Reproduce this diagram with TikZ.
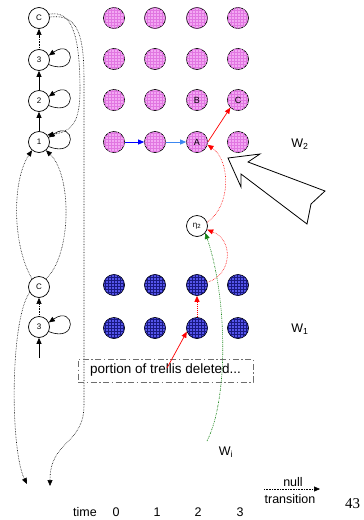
\documentclass[tikz,border=0pt]{standalone}
\usepackage{fontspec}
\setmainfont{Liberation Sans}
\newfontfamily\pagenumfont{Liberation Serif}
\usetikzlibrary{arrows.meta,patterns}

\definecolor{trellispink}{RGB}{243,168,243}
\definecolor{trellispinkgrid}{RGB}{225,118,225}
\definecolor{trellisblue}{RGB}{85,85,235}
\definecolor{trellisbluegrid}{RGB}{25,25,130}
\definecolor{lightarrowblue}{RGB}{60,135,240}
\definecolor{pathgreen}{RGB}{20,130,20}
\definecolor{boxgray}{RGB}{110,110,110}
\definecolor{pathred}{RGB}{255,0,0}

\tikzset{
  x=1pt, y=-1pt,
  arr/.style={-{Triangle[length=6pt,width=5pt]}},
  stnode/.style={circle, draw, line width=0.7pt, minimum size=21pt, inner sep=0pt,
    fill=white, font=\fontsize{8}{9}\selectfont},
  pinknode/.style={circle, draw, line width=0.7pt, minimum size=21pt, inner sep=0pt,
    fill=trellispink, postaction={pattern=grid, pattern color=trellispinkgrid},
    font=\fontsize{9}{10}\selectfont},
  bluenode/.style={circle, draw, line width=0.7pt, minimum size=21pt, inner sep=0pt,
    fill=trellisblue, postaction={pattern=grid, pattern color=trellisbluegrid}},
  dotline/.style={densely dotted, line width=0.6pt},
  lbl/.style={font=\fontsize{12.5}{14}\selectfont, inner sep=0pt},
}

\begin{document}
\begin{tikzpicture}
\useasboundingbox (0,0) rectangle (364,520);

% ---- word model (state column) ----
\node[stnode] (ct) at (39,18) {C};
\node[stnode] (s3) at (39,60) {3};
\node[stnode] (s2) at (39,101) {2};
\node[stnode] (s1) at (39,142) {1};
\node[stnode] (cb) at (39,287) {C};
\node[stnode] (t3) at (39,327) {3};
\coordinate (inb) at (39,358);
\coordinate (endL) at (27,484);
\coordinate (endR) at (50,486);

\draw[arr, line width=0.7pt] (s1) -- (s2);
\draw[arr, line width=0.7pt] (s2) -- (s3);
\draw[arr, dotline] (s3) -- (ct);
\draw[arr, dotline] (t3) -- (cb);
\draw[arr, line width=0.7pt] (inb) -- (t3);

% self loops
\foreach \n in {s3,s2,s1,t3}
  \draw[arr, line width=0.6pt] (\n.-25) .. controls +(30,12) and +(26,-18) .. (\n.25);

% long dotted transitions
\draw[arr, dotline] (ct.20) .. controls (70,10) and (80,30) .. (80,90)
  .. controls (80,125) and (70,132) .. (s1.40);
\draw[arr, dotline] (ct.5) .. controls (76,14) and (84,30) .. (84,80)
  -- (84,405) .. controls (84,445) and (50,440) .. (endR);
\draw[arr, dotline] (cb.130) .. controls (12,245) and (12,180) .. (s1.-130);
\draw[arr, dotline] (cb.50) .. controls (72,255) and (72,175) .. (s1.-50);
\draw[arr, dotline] (cb.-150) .. controls (10,320) and (10,450) .. (endL);

% ---- trellis, upper word ----
\foreach \nm/\x/\y/\t in {
  p03/114/18/, p13/155/18/, p23/197/18/, p33/238/18/,
  p02/114/59/, p12/155/59/, p22/197/59/, p32/238/59/,
  p01/114/100/, p11/155/100/, p21/197/100/B, p31/238/100/C,
  p00/114/142/, p10/155/142/, p20/197/142/A, p30/238/142/}
  \node[pinknode] (\nm) at (\x,\y) {\t};

% ---- trellis, lower word ----
\foreach \nm/\x/\y in {
  b01/114/285, b11/155/285, b21/197/285, b31/238/285,
  b00/114/328, b10/155/328, b20/197/328, b30/238/328}
  \node[bluenode] (\nm) at (\x,\y) {};

\node[stnode, font=\fontsize{8}{9}\selectfont] (eta) at (197,226) {η\textsubscript{2}};

% trellis paths
\draw[arr, blue, line width=0.8pt] (p00) -- (p10);
\draw[arr, lightarrowblue, line width=0.8pt] (p10) -- (p20);
\draw[arr, pathred, line width=0.7pt] (p20.east) -- (p31.-135);
\draw[arr, pathred, dotline] (eta.20) .. controls (232,205) and (230,160) .. (p20.-15);
\draw[arr, pathred, dotline] (b21.15) .. controls (232,275) and (234,240) .. (eta.-20);
\draw[arr, color=pathred, dash pattern=on 1pt off 1pt, line width=0.9pt] (b20.north) -- (b21.south);

% deleted portion
\node[draw=boxgray, line width=0.9pt, dash pattern=on 6pt off 2.5pt on 1.5pt off 2.5pt,
  minimum width=175pt, minimum height=23pt, inner sep=0pt,
  font=\fontsize{13.5}{15}\selectfont] (gap) at (165.5,370.5) {portion of trellis deleted...};
\coordinate (gapptr) at (167,368);
\draw[arr, pathred, line width=0.7pt] (gapptr) -- (b20.-160);

% entry from word i
\coordinate (wistart) at (207,441);
\draw[arr, pathgreen, line width=0.6pt, dash pattern=on 1.5pt off 1pt on 0.5pt off 1pt]
  (wistart) .. controls (228,400) and (228,300) .. (eta.-40);

% big pointer
\draw[line width=0.8pt, fill=white, line join=miter]
  (228,158) -- (260,154) -- (248,162) -- (325,191) -- (311,204) -- (307,224)
  -- (241,174) -- (241,187) -- cycle;

% word labels
\node[lbl] (w2) at (300,144) {W\textsubscript{2}};
\node[lbl] (w1) at (300,329) {W\textsubscript{1}};
\node[lbl] (wi) at (226,452) {W\textsubscript{i}};

% time axis
\node[lbl] (time) at (85,512) {time};
\node[lbl] (t0) at (116,512) {0};
\node[lbl] (t1) at (157,512) {1};
\node[lbl] (t2) at (198,512) {2};
\node[lbl] (t3l) at (240,512) {3};

% legend
\node[lbl] (nulltxt) at (293,482) {null};
\node[lbl] (transtxt) at (290,499) {transition};
\coordinate (lega) at (264,489);
\coordinate (legb) at (320,489);
\draw[arr, dotline] (lega) -- (legb);

\node[anchor=west, inner sep=0pt, font=\pagenumfont\fontsize{15}{17}\selectfont] (pg) at (345,504) {43};
\end{tikzpicture}
\end{document}
